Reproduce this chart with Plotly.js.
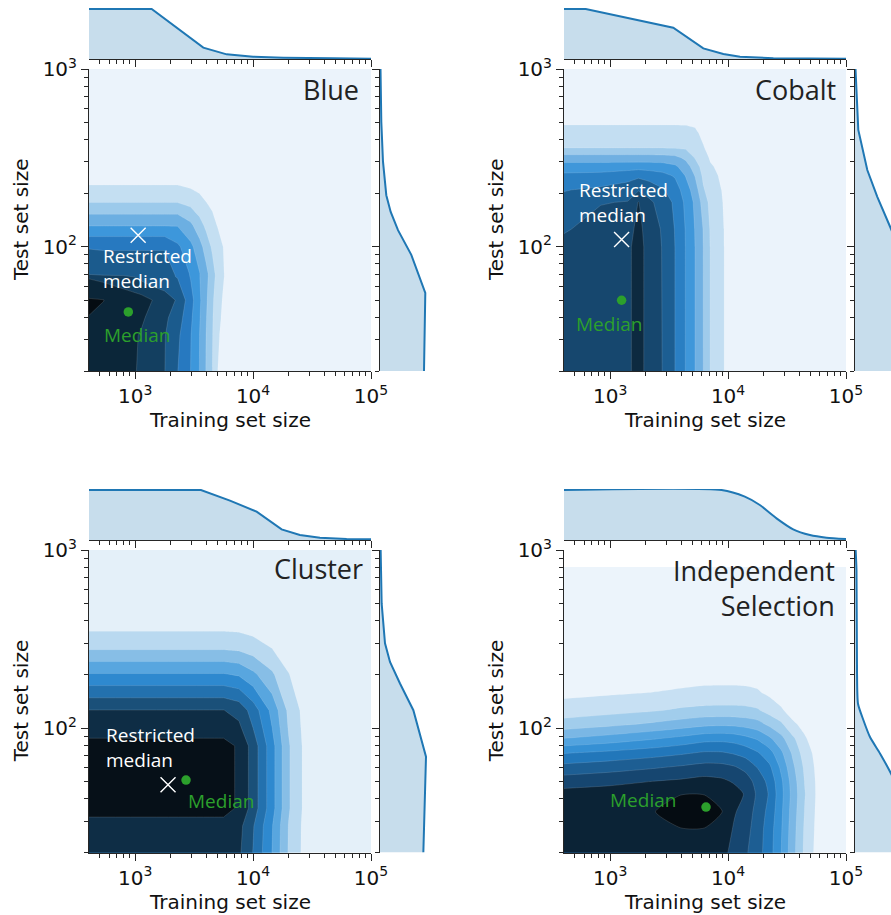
<!DOCTYPE html>
<html><head><meta charset="utf-8">
<script src="https://cdn.plot.ly/plotly-3.0.1.min.js"></script>
<style>html,body{margin:0;padding:0;background:#fff}</style>
</head><body>
<div id="chart" style="width:891px;height:915px"></div>
<script>
// ================= DATA =================
// Density grids: node positions as log10(training size) / log10(test size), density level per node
const blueGridLogX = [2.55, 2.73, 2.90, 3.05, 3.15, 3.25, 3.36, 3.47, 3.545, 3.60, 3.655, 3.70, 3.80, 5.05];
const blueGridLogY = [1.25, 1.50, 1.60, 1.70, 1.83, 1.85, 2.00, 2.12, 2.25, 2.35, 2.45, 3.05];
const blueDensity = [
 [8.85, 8.85, 8.5, 7.8, 7.4, 7.01, 5.98, 4.99, 3.98, 2.97, 1.98, 0.98, 0.45, 0.1],
 [8.9, 8.9, 8.5, 7.9, 7.4, 7.05, 6.2, 5.05, 4.02, 3.02, 2.05, 1.1, 0.45, 0.1],
 [9.05, 8.8, 8.5, 8.2, 7.6, 7.2, 6.5, 5.2, 4.1, 3.1, 2.1, 1.2, 0.5, 0.1],
 [9.12, 9.02, 8.5, 8.4, 7.98, 7.45, 6.9, 5.4, 4.2, 3.2, 2.2, 1.3, 0.5, 0.1],
 [7.99, 7.69, 7.47, 6.72, 6.3, 6.3, 5.95, 4.95, 4.05, 3.3, 2.4, 1.6, 0.5, 0.1],
 [6.8, 6.3, 6.3, 6.3, 6.3, 6.3, 5.9, 4.9, 4.05, 3.3, 2.4, 1.6, 0.5, 0.1],
 [5.95, 5.95, 5.95, 5.95, 5.95, 5.95, 5.2, 4.26, 3.39, 2.59, 1.83, 1.43, 0.5, 0.1],
 [3.95, 3.95, 3.95, 3.95, 3.95, 3.95, 3.95, 3.23, 2.42, 1.8, 1.31, 0.95, 0.5, 0.1],
 [1.98, 1.98, 1.98, 1.98, 1.98, 1.98, 1.98, 1.69, 1.3, 1.02, 0.8, 0.6, 0.4, 0.1],
 [0.97, 0.97, 0.97, 0.97, 0.97, 0.97, 0.97, 0.8, 0.7, 0.6, 0.5, 0.4, 0.3, 0.1],
 [0.5, 0.5, 0.5, 0.5, 0.5, 0.5, 0.5, 0.45, 0.4, 0.35, 0.3, 0.25, 0.2, 0.1],
 [0.15, 0.15, 0.15, 0.15, 0.15, 0.15, 0.15, 0.15, 0.15, 0.15, 0.15, 0.15, 0.1, 0.1]
];

const cobaltGridLogX = [2.55, 2.92, 3.15, 3.24, 3.33, 3.445, 3.55, 3.64, 3.72, 3.79, 3.85, 3.97, 4.10, 5.05];
const cobaltGridLogY = [1.25, 2.00, 2.10, 2.25, 2.32, 2.40, 2.45, 2.50, 2.56, 2.64, 2.70, 2.80, 3.05];
const cobaltDensity = [
 [7.4, 7.5, 7.8, 8.4, 7.6, 6.98, 5.99, 4.97, 3.99, 2.99, 1.95, 0.97, 0.5, 0.1],
 [7.2, 7.5, 7.8, 8.4, 7.6, 6.95, 5.99, 4.97, 3.99, 2.98, 1.95, 0.97, 0.5, 0.1],
 [6.8, 7.4, 7.6, 8.3, 7.5, 6.9, 5.95, 4.95, 3.95, 2.95, 1.9, 0.96, 0.5, 0.1],
 [6.25, 6.95, 7.05, 8.05, 7.2, 6.6, 5.8, 4.8, 3.8, 2.6, 1.7, 0.9, 0.45, 0.1],
 [5.9, 6.2, 6.5, 6.9, 6.6, 6.1, 5.5, 4.5, 3.5, 2.1, 1.55, 0.85, 0.45, 0.1],
 [5.2, 5.3, 5.6, 5.8, 5.6, 5.3, 4.9, 3.95, 2.95, 1.8, 1.3, 0.75, 0.4, 0.1],
 [4.5, 4.5, 4.55, 4.6, 4.55, 4.5, 4.2, 3.5, 2.5, 1.6, 1.1, 0.7, 0.4, 0.1],
 [3.45, 3.45, 3.45, 3.45, 3.45, 3.4, 3.3, 2.8, 1.95, 1.4, 0.9, 0.6, 0.35, 0.1],
 [1.9, 1.9, 1.9, 1.9, 1.9, 1.9, 1.85, 1.8, 1.5, 1.05, 0.7, 0.5, 0.3, 0.1],
 [1.3, 1.3, 1.3, 1.3, 1.3, 1.3, 1.3, 1.25, 1.15, 0.8, 0.55, 0.4, 0.3, 0.1],
 [0.9, 0.9, 0.9, 0.9, 0.9, 0.9, 0.9, 0.9, 0.85, 0.6, 0.45, 0.35, 0.25, 0.1],
 [0.5, 0.5, 0.5, 0.5, 0.5, 0.5, 0.5, 0.5, 0.45, 0.4, 0.35, 0.3, 0.2, 0.1],
 [0.2, 0.2, 0.2, 0.2, 0.2, 0.2, 0.2, 0.2, 0.2, 0.15, 0.15, 0.15, 0.1, 0.1]
];

const clusterGridLogX = [2.55, 3.75, 3.88, 4.0, 4.16, 4.30, 4.45, 5.05];
const clusterGridLogY = [1.25, 1.45, 1.55, 1.90, 2.00, 2.10, 2.30, 2.45, 2.62, 3.05];
const clusterDensity = [
 [7.5, 7.5, 7.125, 5.925, 3.975, 1.913, 0.6, 0.15],
 [7.7, 7.7, 7.315, 6.083, 4.081, 1.964, 0.616, 0.154],
 [8.3, 8.3, 7.885, 6.557, 4.399, 2.117, 0.664, 0.166],
 [8.3, 8.3, 7.885, 6.557, 4.399, 2.117, 0.664, 0.166],
 [7.6, 7.6, 7.22, 6.004, 4.028, 1.938, 0.608, 0.152],
 [7.02, 7.02, 6.669, 5.546, 3.721, 1.79, 0.562, 0.14],
 [4.1, 4.1, 3.895, 3.239, 2.173, 1.046, 0.328, 0.082],
 [1.85, 1.85, 1.758, 1.462, 0.981, 0.472, 0.148, 0.037],
 [0.3, 0.3, 0.285, 0.237, 0.159, 0.077, 0.024, 0.006],
 [0.1, 0.1, 0.095, 0.079, 0.053, 0.026, 0.008, 0.002]
];

const indepGridLogX = [2.55, 3.0, 3.37, 3.6, 3.8, 3.95, 4.05, 4.15, 4.25, 4.35, 4.45, 4.55, 4.65, 4.75, 5.05];
const indepGridLogY = [1.25, 1.43, 1.53, 1.63, 1.70, 1.78, 1.86, 1.94, 2.02, 2.10, 2.20, 2.30, 2.904];
const indepDensity = [
 [9.4, 9.5, 9.6, 9.65, 9.6, 9.2, 8.6, 8.05, 7.4, 6.4, 4.98, 3.3, 1.75, 0.7, 0.2],
 [9.5, 9.6, 9.85, 9.97, 9.97, 9.6, 8.9, 8.35, 7.5, 6.5, 5.1, 3.4, 1.85, 0.8, 0.2],
 [9.55, 9.7, 9.98, 10.3, 10.3, 10.02, 9.1, 8.6, 7.6, 6.7, 5.2, 3.5, 1.95, 0.85, 0.2],
 [9.35, 9.5, 9.7, 9.98, 9.98, 9.7, 9.4, 8.9, 7.8, 6.9, 5.3, 3.6, 2.05, 0.9, 0.2],
 [8.5, 8.74, 9.02, 9.17, 9.35, 9.2, 8.9, 8.5, 7.6, 6.7, 5.2, 3.5, 1.95, 0.88, 0.2],
 [7.3, 7.6, 7.9, 8.125, 8.35, 8.3, 8.1, 7.7, 6.95, 6.2, 4.8, 3.2, 1.8, 0.8, 0.2],
 [5.9, 6.25, 6.6, 6.86, 7.125, 7.1, 6.9, 6.6, 6.1, 5.4, 4.2, 2.8, 1.5, 0.7, 0.2],
 [3.98, 4.46, 4.94, 5.3, 5.66, 5.7, 5.6, 5.3, 4.9, 4.2, 3.3, 2.2, 1.1, 0.55, 0.15],
 [2.4, 2.795, 3.19, 3.49, 3.78, 3.85, 3.8, 3.65, 3.4, 2.8, 2.2, 1.15, 0.75, 0.4, 0.15],
 [1.4, 1.65, 1.9, 2.15, 2.275, 2.3, 2.3, 2.25, 2.1, 1.6, 1.1, 0.65, 0.45, 0.3, 0.1],
 [0.75, 0.88, 1.01, 1.11, 1.205, 1.22, 1.22, 1.2, 1.1, 0.8, 0.6, 0.4, 0.3, 0.2, 0.1],
 [0.5, 0.55, 0.6, 0.64, 0.675, 0.68, 0.68, 0.65, 0.6, 0.5, 0.4, 0.3, 0.25, 0.2, 0.1],
 [0.1, 0.1, 0.1, 0.1, 0.1, 0.1, 0.1, 0.1, 0.1, 0.1, 0.1, 0.1, 0.1, 0.1, 0.1]
];

// Marginal densities (top: training set size; right: test set size), relative height
const blueTopX = [398, 1380, 3784, 5970, 10000, 18030, 47530, 100000];
const blueTopY = [1.0, 1.0, 0.227, 0.093, 0.047, 0.027, 0.013, 0.007];
const blueRightY = [1000, 505, 301, 195, 157, 124, 90, 55, 20];
const blueRightX = [0.01, 0.026, 0.06, 0.126, 0.214, 0.36, 0.626, 0.906, 0.88];

const cobaltTopX = [398, 621, 3428, 6166, 9120, 12620, 24210, 100000];
const cobaltTopY = [1.0, 1.0, 0.627, 0.213, 0.1, 0.047, 0.013, 0.007];
const cobaltRightY = [1000, 670, 454, 270, 191, 130, 89, 50, 20];
const cobaltRightX = [0.01, 0.034, 0.066, 0.246, 0.446, 0.70, 0.95, 1.05, 1.0];

const clusterTopX = [398, 3614, 6368, 10720, 17460, 24950, 36900, 62090, 100000];
const clusterTopY = [1.0, 1.0, 0.787, 0.567, 0.213, 0.1, 0.047, 0.02, 0.013];
const clusterRightY = [1000, 501, 299, 235, 178, 126, 69, 20];
const clusterRightX = [0.013, 0.033, 0.1, 0.2, 0.4, 0.667, 0.92, 0.867];

const indepTopX = [398, 8810, 13870, 18580, 25760, 35650, 49430, 68390, 100000];
const indepTopY = [1.0, 1.0, 0.867, 0.70, 0.433, 0.213, 0.1, 0.047, 0.02];
const indepRightY = [1000, 771, 211, 137, 111, 89, 72, 55.5, 40, 20];
const indepRightX = [0.013, 0.03, 0.04, 0.06, 0.167, 0.3, 0.5, 0.72, 0.95, 0.9];

// Median and restricted median (training size, test size)
const medianTrain = [875, 1250, 2700, 6500];
const medianTest = [43, 50, 51, 36];
const restrictedTrain = [1060, 1250, 1900, null];
const restrictedTest = [116, 110, 48, null];

// Tick labels
const xTickVals = [1000, 10000, 100000];
const xTickText = ['10<sup>3</sup>', '10<sup>4</sup>', '10<sup>5</sup>'];
const yTickVals = [100, 1000];
const yTickText = ['10<sup>2</sup>', '10<sup>3</sup>'];

// ================= STYLE / LAYOUT =================
const W = 891, H = 915;
const px2x = p => p / W, px2y = p => 1 - p / H;
const pow10 = a => a.map(v => Math.pow(10, v));
const axisColor = '#262626';
const xMinor = [], yMinor = [];
[100, 1000, 10000].forEach(d => { for (let k = 2; k <= 9; k++) xMinor.push(k * d); });
[10, 100].forEach(d => { for (let k = 2; k <= 9; k++) yMinor.push(k * d); });

const palettes = [
 ['#ebf3fb','#c4dff2','#9ccaeb','#6cafe2','#3d97db','#2779c0','#1b5b8d','#133f60','#0b2639','#050c12'],
 ['#ebf3fb','#c3def2','#9fcbeb','#70b0e2','#3f97da','#2a7fc3','#1c5e92','#16476e','#0d2a40'],
 ['#e4f0f9','#b9d9f0','#87bee6','#58a6df','#2e89cf','#2371ae','#1a5079','#0e2d45','#061018'],
 ['#ecf4fb','#c7e0f3','#a1cdec','#7ab7e5','#52a3df','#3590d4','#2277ba','#1d5e93','#164670','#0b2336','#050c12']
];

const panels = [
 {title:'Blue', gx:blueGridLogX, gy:blueGridLogY, z:blueDensity, tx:blueTopX, ty:blueTopY, rx:blueRightX, ry:blueRightY, smooth:0,
  titlePos:[0.9645,0.932], restrPos:[0.0426,0.3407], medPos:[0.047,0.118]},
 {title:'Cobalt', gx:cobaltGridLogX, gy:cobaltGridLogY, z:cobaltDensity, tx:cobaltTopX, ty:cobaltTopY, rx:cobaltRightX, ry:cobaltRightY, smooth:0,
  titlePos:[0.9706,0.932], restrPos:[0.047,0.558], medPos:[0.035,0.157]},
 {title:'Cluster', gx:clusterGridLogX, gy:clusterGridLogY, z:clusterDensity, tx:clusterTopX, ty:clusterTopY, rx:clusterRightX, ry:clusterRightY, smooth:0,
  titlePos:[0.9787,0.938], restrPos:[0.053,0.347], medPos:[0.343,0.169]},
 {title:'Independent<br>Selection', gx:indepGridLogX, gy:indepGridLogY, z:indepDensity, tx:indepTopX, ty:indepTopY, rx:indepRightX, ry:indepRightY, smooth:0.6,
  titlePos:[0.967,0.876], restrPos:null, medPos:[0.157,0.1745]}
];

const colL = [89, 564], colR = [371, 846];
const rowT = [69, 550], rowB = [371, 852.5];
const margT = [8, 489], margB = [59, 540];
const rmL = [380, 855], rmR = [430, 891];

const axName = (l, n) => l + 'axis' + (n === 1 ? '' : n);
const axRef = (l, n) => l + (n === 1 ? '' : n);

const data = [];
const layout = {
  width: W, height: H, margin: {l:0, r:0, t:0, b:0},
  paper_bgcolor: '#fff', plot_bgcolor: '#fff', showlegend: false,
  font: {family: 'DejaVu Sans', size: 20, color: '#111'},
  annotations: []
};

const tickFont = {family: 'DejaVu Sans', size: 20, color: '#111'};
const minorX = {tickmode:'array', tickvals:xMinor, ticks:'outside', ticklen:4, tickwidth:1, tickcolor:axisColor, showgrid:false};
const minorY = {tickmode:'array', tickvals:yMinor, ticks:'outside', ticklen:4, tickwidth:1, tickcolor:axisColor, showgrid:false};
const xRange = [Math.log10(406), 5], yRange = [Math.log10(20), 3];

panels.forEach((P, p) => {
  const c = p % 2, r = Math.floor(p / 2);
  const m = 3 * p + 1, t = 3 * p + 2, q = 3 * p + 3;
  const xd = [px2x(colL[c]), px2x(colR[c])];
  const yd = [px2y(rowB[r]), px2y(rowT[r])];

  layout[axName('x', m)] = {type:'log', domain:xd, anchor:axRef('y', m), range:xRange,
    showline:true, linecolor:axisColor, linewidth:1, ticks:'outside', ticklen:7, tickwidth:1, tickcolor:axisColor,
    tickmode:'array', tickvals:xTickVals, ticktext:xTickText, tickfont:tickFont, minor:minorX,
    showgrid:false, zeroline:false, fixedrange:true};
  layout[axName('y', m)] = {type:'log', domain:yd, anchor:axRef('x', m), range:yRange,
    showline:true, linecolor:axisColor, linewidth:1, ticks:'outside', ticklen:7, tickwidth:1, tickcolor:axisColor,
    tickmode:'array', tickvals:yTickVals, ticktext:yTickText, tickfont:tickFont, minor:minorY,
    showgrid:false, zeroline:false, fixedrange:true};
  layout[axName('x', t)] = {type:'log', domain:xd, anchor:axRef('y', t), range:xRange,
    showline:true, linecolor:axisColor, linewidth:1, ticks:'outside', ticklen:7, tickwidth:1, tickcolor:axisColor,
    tickmode:'array', tickvals:xTickVals, showticklabels:false, minor:minorX,
    showgrid:false, zeroline:false, fixedrange:true};
  layout[axName('y', t)] = {domain:[px2y(margB[r]), px2y(margT[r])], anchor:axRef('x', t), range:[0, 1.02],
    visible:false, fixedrange:true};
  layout[axName('x', q)] = {domain:[px2x(rmL[c]), Math.min(1, px2x(rmR[c]))], anchor:axRef('y', q),
    range:[0, (rmR[c] - rmL[c]) / 50], visible:false, fixedrange:true};
  layout[axName('y', q)] = {type:'log', domain:yd, anchor:axRef('x', q), range:yRange,
    showline:true, linecolor:axisColor, linewidth:1, ticks:'outside', ticklen:7, tickwidth:1, tickcolor:axisColor,
    tickmode:'array', tickvals:yTickVals, showticklabels:false, minor:minorY,
    showgrid:false, zeroline:false, fixedrange:true};

  const pal = palettes[p], N = pal.length - 1;
  data.push({type:'contour', x:pow10(P.gx), y:pow10(P.gy), z:P.z,
    xaxis:axRef('x', m), yaxis:axRef('y', m),
    autocontour:false, contours:{start:1, end:N, size:1, coloring:'fill', showlines:true},
    colorscale: pal.map((col, i) => [i / N, col]),
    line:{width:0.6, color:'rgba(255,255,255,0.22)', smoothing:P.smooth},
    showscale:false, hoverinfo:'skip'});

  data.push({type:'scatter', mode:'lines', x:P.tx, y:P.ty, xaxis:axRef('x', t), yaxis:axRef('y', t),
    fill:'tozeroy', fillcolor:'rgba(31,119,180,0.25)',
    line:{color:'#1f77b4', width:2, shape:P.smooth ? 'spline' : 'linear', smoothing:0.6}, hoverinfo:'skip'});
  data.push({type:'scatter', mode:'lines', x:P.rx, y:P.ry, xaxis:axRef('x', q), yaxis:axRef('y', q),
    fill:'tozerox', fillcolor:'rgba(31,119,180,0.25)',
    line:{color:'#1f77b4', width:2, shape:P.smooth ? 'spline' : 'linear', smoothing:0.6}, hoverinfo:'skip'});

  if (restrictedTrain[p] !== null) {
    data.push({type:'scatter', mode:'markers', x:[restrictedTrain[p]], y:[restrictedTest[p]],
      xaxis:axRef('x', m), yaxis:axRef('y', m),
      marker:{symbol:'x-thin', size:15, color:'#fff', line:{color:'#fff', width:1.4}}, hoverinfo:'skip'});
  }
  data.push({type:'scatter', mode:'markers', x:[medianTrain[p]], y:[medianTest[p]],
    xaxis:axRef('x', m), yaxis:axRef('y', m),
    marker:{symbol:'circle', size:9.5, color:'#2ca02c'}, hoverinfo:'skip'});

  const xdom = axRef('x', m) + ' domain', ydom = axRef('y', m) + ' domain';
  layout.annotations.push({xref:xdom, yref:ydom, x:P.titlePos[0], y:P.titlePos[1], text:P.title,
    xanchor:'right', yanchor:'middle', align:'right', showarrow:false,
    font:{family:'Open Sans', size:27, color:'#222'}});
  if (P.restrPos) layout.annotations.push({xref:xdom, yref:ydom, x:P.restrPos[0], y:P.restrPos[1],
    text:'Restricted<br>median', xanchor:'left', yanchor:'middle', align:'left', showarrow:false,
    font:{family:'Open Sans', size:19, color:'#fff'}});
  layout.annotations.push({xref:xdom, yref:ydom, x:P.medPos[0], y:P.medPos[1], text:'Median',
    xanchor:'left', yanchor:'middle', align:'left', showarrow:false,
    font:{family:'Open Sans', size:19, color:'#2ca02c'}});

  layout.annotations.push({xref:'paper', yref:'paper', x:px2x((colL[c] + colR[c]) / 2), y:px2y(rowB[r] + 49),
    text:'Training set size', showarrow:false, xanchor:'center', yanchor:'middle',
    font:{family:'DejaVu Sans', size:20, color:'#111'}});
  layout.annotations.push({xref:'paper', yref:'paper', x:px2x(colL[c] - 68), y:px2y((rowT[r] + rowB[r]) / 2),
    text:'Test set size', textangle:-90, showarrow:false, xanchor:'center', yanchor:'middle',
    font:{family:'DejaVu Sans', size:20, color:'#111'}});
});

Plotly.newPlot('chart', data, layout, {staticPlot:true, displayModeBar:false});
</script>
</body></html>
